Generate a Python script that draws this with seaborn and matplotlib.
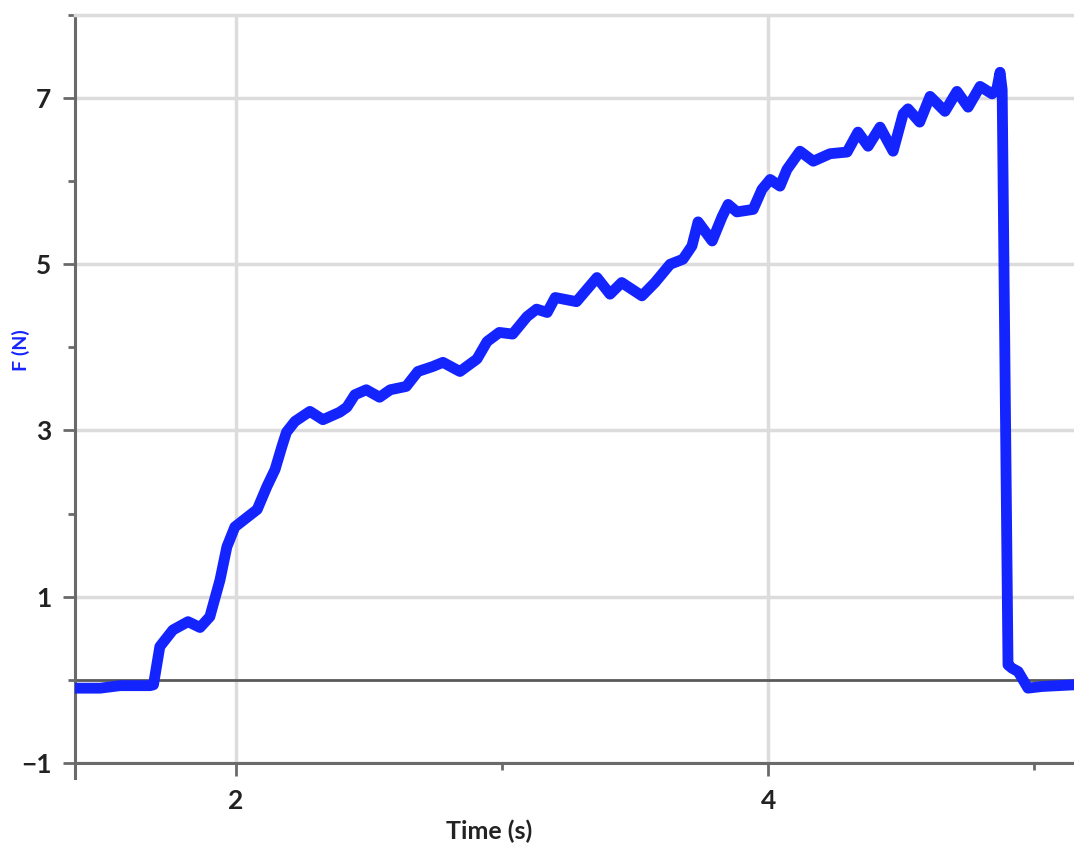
import numpy as np
import pandas as pd
import matplotlib
matplotlib.use("Agg")
import matplotlib.pyplot as plt
from matplotlib.ticker import MultipleLocator
import seaborn as sns

# ── Data ──────────────────────────────────────────────────
time_s = [1.395, 1.49, 1.564, 1.677, 1.690, 1.714, 1.763, 1.82, 1.865, 1.902,
          1.94, 1.966, 1.996, 2.04, 2.08, 2.117, 2.147, 2.173, 2.19, 2.222,
          2.278, 2.327, 2.39, 2.417, 2.447, 2.49, 2.54, 2.58, 2.64, 2.684,
          2.74, 2.778, 2.842, 2.906, 2.944, 2.99, 3.04, 3.094, 3.13, 3.17,
          3.2, 3.28, 3.357, 3.406, 3.45, 3.526, 3.575, 3.632, 3.68, 3.714,
          3.737, 3.79, 3.827, 3.85, 3.883, 3.944, 3.977, 4.008, 4.045, 4.071,
          4.12, 4.17, 4.233, 4.297, 4.338, 4.376, 4.421, 4.47, 4.508, 4.526,
          4.57, 4.609, 4.665, 4.71, 4.752, 4.797, 4.842, 4.86, 4.872, 4.88,
          4.902, 4.917, 4.94, 4.977, 5.03, 5.15]
force_n = [-0.10, -0.10, -0.07, -0.07, -0.06, 0.40, 0.60, 0.70, 0.63, 0.76,
           1.20, 1.60, 1.84, 1.95, 2.05, 2.33, 2.53, 2.81, 2.98, 3.11,
           3.23, 3.13, 3.22, 3.28, 3.43, 3.49, 3.40, 3.49, 3.53, 3.71,
           3.77, 3.82, 3.71, 3.86, 4.07, 4.18, 4.16, 4.37, 4.46, 4.42,
           4.60, 4.55, 4.84, 4.64, 4.78, 4.62, 4.78, 5.00, 5.06, 5.22,
           5.51, 5.28, 5.57, 5.72, 5.63, 5.66, 5.90, 6.02, 5.94, 6.14,
           6.36, 6.24, 6.33, 6.35, 6.59, 6.42, 6.65, 6.36, 6.81, 6.87,
           6.71, 7.02, 6.84, 7.08, 6.89, 7.14, 7.05, 7.11, 7.31, 7.10,
           0.18, 0.14, 0.10, -0.10, -0.08, -0.06]

x_ticks = [2, 4]
y_ticks = [-1, 1, 3, 5, 7]

df = pd.DataFrame({'Time (s)': time_s, 'F (N)': force_n})

# ── Style ─────────────────────────────────────────────────
sns.set_style('white')
plt.rcParams['font.family'] = ['Lato', 'DejaVu Sans']

AXIS_GREY = '#6a6a6a'
GRID_GREY = '#dcdcdc'
LINE_BLUE = '#1424ff'

fig = plt.figure(figsize=(10.74, 8.52), dpi=100)
ax = fig.add_axes([0.0698, 0.1045, 0.9302, 0.878])

sns.lineplot(data=df, x='Time (s)', y='F (N)', ax=ax, sort=False,
             estimator=None, color=LINE_BLUE, linewidth=7.8, zorder=5,
             solid_joinstyle='round', solid_capstyle='round')

ax.set_xlim(1.395, 5.15)
ax.set_ylim(-1, 8.0)

ax.set_xticks(x_ticks)
ax.set_yticks(y_ticks)
ax.xaxis.set_minor_locator(MultipleLocator(1))
ax.yaxis.set_minor_locator(MultipleLocator(1))

ax.grid(True, which='major', color=GRID_GREY, linewidth=2.5)
ax.set_axisbelow(True)
ax.axhline(0, color='#5a5a5a', linewidth=2.0, zorder=2)

ax.spines['right'].set_visible(False)
ax.spines['top'].set_color(GRID_GREY)
ax.spines['top'].set_linewidth(2.5)
for side in ['left', 'bottom']:
    ax.spines[side].set_color(AXIS_GREY)
    ax.spines[side].set_linewidth(2.2)
ax.spines['left'].set_bounds(-1.18, 8.0)

ax.tick_params(axis='both', which='both', left=True, bottom=True,
               direction='out', color=AXIS_GREY, width=2)
ax.tick_params(axis='both', which='major', length=9, labelsize=19)
ax.tick_params(axis='both', which='minor', length=5)
ax.tick_params(axis='x', which='major', pad=10)
ax.tick_params(axis='y', which='major', pad=8)

ax.set_yticklabels(['\u22121' if v == -1 else str(v) for v in y_ticks])
for lab in ax.get_xticklabels() + ax.get_yticklabels():
    lab.set_fontweight('bold')
    lab.set_color('#222222')

ax.set_xlabel('Time (s)', fontsize=18, fontweight='bold', color='#222222')
ax.xaxis.set_label_coords(0.415, -0.075)
ax.set_ylabel('F (N)', fontsize=14, fontweight='bold', color=LINE_BLUE)
ax.yaxis.set_label_coords(-0.045, 0.552)

plt.savefig('out.png', dpi=100)
plt.close()
